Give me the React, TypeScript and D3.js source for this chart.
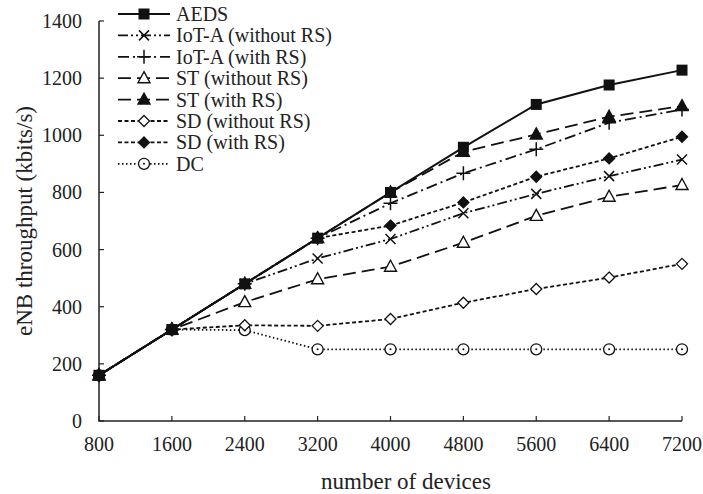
import React from "react";
import * as d3 from "d3";

// number of devices
const devices = [800, 1600, 2400, 3200, 4000, 4800, 5600, 6400, 7200];
const yTicks = [0, 200, 400, 600, 800, 1000, 1200, 1400];

// throughput (kbits/s)
const aeds = [160, 320, 480, 640, 800, 958, 1108, 1176, 1228];
const iotNoRs = [160, 320, 480, 569, 637, 727, 795, 857, 915];
const iotRs = [160, 320, 480, 640, 762, 867, 951, 1044, 1090];
const stNoRs = [160, 320, 416, 496, 540, 624, 718, 785, 826];
const stRs = [160, 320, 480, 640, 800, 942, 1003, 1065, 1102];
const sdNoRs = [160, 320, 335, 333, 357, 414, 462, 502, 550];
const sdRs = [160, 320, 480, 640, 684, 765, 855, 919, 995];
const dc = [160, 320, 318, 251, 251, 251, 251, 251, 251];

const series = [
  { name: "AEDS", values: aeds, dash: "none", marker: "square" },
  { name: "IoT-A (without RS)", values: iotNoRs, dash: "10,3,2,3,2,3", marker: "x" },
  { name: "IoT-A (with RS)", values: iotRs, dash: "11,4,2,4", marker: "plus" },
  { name: "ST (without RS)", values: stNoRs, dash: "13,6", marker: "triOpen" },
  { name: "ST (with RS)", values: stRs, dash: "13,6", marker: "triFilled" },
  { name: "SD (without RS)", values: sdNoRs, dash: "4,2.5", marker: "diaOpen" },
  { name: "SD (with RS)", values: sdRs, dash: "4,2.5", marker: "diaFilled" },
  { name: "DC", values: dc, dash: "1.5,2.5", marker: "circle" },
];

const W = 703;
const H = 494;
const left = 99;
const right = 682;
const top = 21;
const bottom = 421;
const FONT = "'Liberation Serif', 'Times New Roman', serif";

function Marker({ type, x, y }: { type: string; x: number; y: number }) {
  const s = "#111";
  switch (type) {
    case "square":
      return <rect x={x - 5.5} y={y - 5.5} width={11} height={11} fill={s} />;
    case "x":
      return (
        <path d={`M${x - 5},${y - 5}L${x + 5},${y + 5}M${x - 5},${y + 5}L${x + 5},${y - 5}`} stroke={s} strokeWidth={1.5} fill="none" />
      );
    case "plus":
      return (
        <path d={`M${x - 7},${y}L${x + 7},${y}M${x},${y - 7}L${x},${y + 7}`} stroke={s} strokeWidth={1.5} fill="none" />
      );
    case "triOpen":
    case "triFilled":
      return (
        <path
          d={`M${x},${y - 6.5}L${x + 6},${y + 4.5}L${x - 6},${y + 4.5}Z`}
          stroke={s}
          strokeWidth={1.4}
          fill={type === "triFilled" ? s : "#fff"}
        />
      );
    case "diaOpen":
    case "diaFilled":
      return (
        <path
          d={`M${x},${y - 5.5}L${x + 5.5},${y}L${x},${y + 5.5}L${x - 5.5},${y}Z`}
          stroke={s}
          strokeWidth={1.3}
          fill={type === "diaFilled" ? s : "#fff"}
        />
      );
    case "circle":
      return (
        <g>
          <circle cx={x} cy={y} r={5.5} stroke={s} strokeWidth={1.3} fill="#fff" />
          <circle cx={x} cy={y} r={1} fill={s} />
        </g>
      );
    default:
      return null;
  }
}

export default function App() {
  const xScale = d3.scaleLinear().domain([800, 7200]).range([left, right]);
  const yScale = d3.scaleLinear().domain([0, 1400]).range([bottom, top]);
  const line = d3
    .line<number>()
    .x((_, i) => xScale(devices[i]))
    .y((v) => yScale(v));

  return (
    <svg
      width={W}
      height={H}
      style={{ position: "absolute", left: 0, top: 0, background: "#fff" }}
      fontFamily={FONT}
    >
      {/* axes */}
      <path d={`M${left},${top}L${left},${bottom}L${right},${bottom}`} stroke="#222" strokeWidth={1.5} fill="none" />
      {yTicks.map((t) => (
        <g key={t}>
          <line x1={left} x2={left + 5} y1={yScale(t)} y2={yScale(t)} stroke="#222" strokeWidth={1.2} />
          <text x={82} y={yScale(t)} dy="0.35em" textAnchor="end" fontSize={20} fill="#222">
            {t}
          </text>
        </g>
      ))}
      {devices.map((d) => (
        <g key={d}>
          <line x1={xScale(d)} x2={xScale(d)} y1={bottom} y2={bottom - 5} stroke="#222" strokeWidth={1.2} />
          <text x={xScale(d)} y={451} textAnchor="middle" fontSize={20} fill="#222">
            {d}
          </text>
        </g>
      ))}
      <text x={406} y={489} textAnchor="middle" fontSize={23} fill="#222">
        number of devices
      </text>
      <text
        transform={`translate(32,${(top + bottom) / 2}) rotate(-90)`}
        textAnchor="middle"
        fontSize={23}
        fill="#222"
      >
        eNB throughput (kbits/s)
      </text>

      {/* series */}
      {series
        .slice()
        .reverse()
        .map((s) => (
          <g key={s.name}>
            <path
              d={line(s.values) || ""}
              fill="none"
              stroke="#111"
              strokeWidth={s.marker === "square" ? 2 : 1.8}
              strokeDasharray={s.dash}
            />
            {s.values.map((v, i) => (
              <Marker key={i} type={s.marker} x={xScale(devices[i])} y={yScale(v)} />
            ))}
          </g>
        ))}

      {/* legend */}
      {series.map((s, i) => {
        const ly = 14 + i * 21.4;
        return (
          <g key={s.name}>
            <rect x={112} y={ly - 10} width={250} height={20} fill="#fff" />
            <line x1={118} x2={170} y1={ly} y2={ly} stroke="#111" strokeWidth={1.8} strokeDasharray={s.dash} />
            <Marker type={s.marker} x={144} y={ly} />
            <text x={176} y={ly} dy="0.35em" fontSize={20} fill="#222">
              {s.name}
            </text>
          </g>
        );
      })}
    </svg>
  );
}
